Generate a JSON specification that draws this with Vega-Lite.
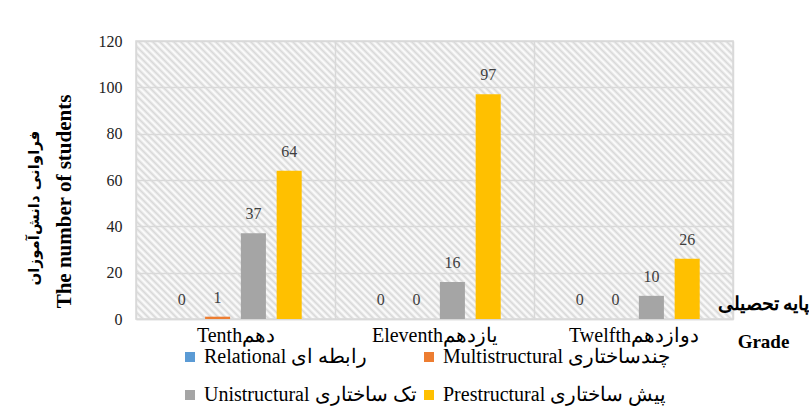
{
  "$schema": "https://vega.github.io/schema/vega-lite/v6.json",
  "width": 597,
  "height": 278,
  "autosize": {"type": "none"},
  "padding": {"left": 136, "top": 41, "right": 76, "bottom": 100},
  "background": "white",
  "title": {
    "text": "فراوانی دانش‌آموزان",
    "orient": "left",
    "anchor": "middle",
    "font": "DejaVu Sans",
    "fontSize": 15,
    "fontWeight": "bold",
    "color": "#000000",
    "offset": 11,
    "dx": -28
  },
  "config": {
    "font": "Liberation Serif",
    "view": {
      "stroke": "#d9d9d9",
      "strokeWidth": 1.5,
      "fill": {
        "gradient": "linear",
        "x1": 0, "y1": 1, "x2": 1.2045, "y2": 0.4391,
        "stops": [
          {"offset":0,"color":"#d9d9d9"},{"offset":0.004,"color":"#fff"},{"offset":0.008,"color":"#d9d9d9"},{"offset":0.012,"color":"#fff"},{"offset":0.016,"color":"#d9d9d9"},{"offset":0.02,"color":"#fff"},{"offset":0.024,"color":"#d9d9d9"},{"offset":0.028,"color":"#fff"},{"offset":0.032,"color":"#d9d9d9"},{"offset":0.036,"color":"#fff"},
          {"offset":0.04,"color":"#d9d9d9"},{"offset":0.044,"color":"#fff"},{"offset":0.048,"color":"#d9d9d9"},{"offset":0.052,"color":"#fff"},{"offset":0.056,"color":"#d9d9d9"},{"offset":0.06,"color":"#fff"},{"offset":0.064,"color":"#d9d9d9"},{"offset":0.068,"color":"#fff"},{"offset":0.072,"color":"#d9d9d9"},{"offset":0.076,"color":"#fff"},
          {"offset":0.08,"color":"#d9d9d9"},{"offset":0.084,"color":"#fff"},{"offset":0.088,"color":"#d9d9d9"},{"offset":0.092,"color":"#fff"},{"offset":0.096,"color":"#d9d9d9"},{"offset":0.1,"color":"#fff"},{"offset":0.104,"color":"#d9d9d9"},{"offset":0.108,"color":"#fff"},{"offset":0.112,"color":"#d9d9d9"},{"offset":0.116,"color":"#fff"},
          {"offset":0.12,"color":"#d9d9d9"},{"offset":0.124,"color":"#fff"},{"offset":0.128,"color":"#d9d9d9"},{"offset":0.132,"color":"#fff"},{"offset":0.136,"color":"#d9d9d9"},{"offset":0.14,"color":"#fff"},{"offset":0.144,"color":"#d9d9d9"},{"offset":0.148,"color":"#fff"},{"offset":0.152,"color":"#d9d9d9"},{"offset":0.156,"color":"#fff"},
          {"offset":0.16,"color":"#d9d9d9"},{"offset":0.164,"color":"#fff"},{"offset":0.168,"color":"#d9d9d9"},{"offset":0.172,"color":"#fff"},{"offset":0.176,"color":"#d9d9d9"},{"offset":0.18,"color":"#fff"},{"offset":0.184,"color":"#d9d9d9"},{"offset":0.188,"color":"#fff"},{"offset":0.192,"color":"#d9d9d9"},{"offset":0.196,"color":"#fff"},
          {"offset":0.2,"color":"#d9d9d9"},{"offset":0.204,"color":"#fff"},{"offset":0.208,"color":"#d9d9d9"},{"offset":0.212,"color":"#fff"},{"offset":0.216,"color":"#d9d9d9"},{"offset":0.22,"color":"#fff"},{"offset":0.224,"color":"#d9d9d9"},{"offset":0.228,"color":"#fff"},{"offset":0.232,"color":"#d9d9d9"},{"offset":0.236,"color":"#fff"},
          {"offset":0.24,"color":"#d9d9d9"},{"offset":0.244,"color":"#fff"},{"offset":0.248,"color":"#d9d9d9"},{"offset":0.252,"color":"#fff"},{"offset":0.256,"color":"#d9d9d9"},{"offset":0.26,"color":"#fff"},{"offset":0.264,"color":"#d9d9d9"},{"offset":0.268,"color":"#fff"},{"offset":0.272,"color":"#d9d9d9"},{"offset":0.276,"color":"#fff"},
          {"offset":0.28,"color":"#d9d9d9"},{"offset":0.284,"color":"#fff"},{"offset":0.288,"color":"#d9d9d9"},{"offset":0.292,"color":"#fff"},{"offset":0.296,"color":"#d9d9d9"},{"offset":0.3,"color":"#fff"},{"offset":0.304,"color":"#d9d9d9"},{"offset":0.308,"color":"#fff"},{"offset":0.312,"color":"#d9d9d9"},{"offset":0.316,"color":"#fff"},
          {"offset":0.32,"color":"#d9d9d9"},{"offset":0.324,"color":"#fff"},{"offset":0.328,"color":"#d9d9d9"},{"offset":0.332,"color":"#fff"},{"offset":0.336,"color":"#d9d9d9"},{"offset":0.34,"color":"#fff"},{"offset":0.344,"color":"#d9d9d9"},{"offset":0.348,"color":"#fff"},{"offset":0.352,"color":"#d9d9d9"},{"offset":0.356,"color":"#fff"},
          {"offset":0.36,"color":"#d9d9d9"},{"offset":0.364,"color":"#fff"},{"offset":0.368,"color":"#d9d9d9"},{"offset":0.372,"color":"#fff"},{"offset":0.376,"color":"#d9d9d9"},{"offset":0.38,"color":"#fff"},{"offset":0.384,"color":"#d9d9d9"},{"offset":0.388,"color":"#fff"},{"offset":0.392,"color":"#d9d9d9"},{"offset":0.396,"color":"#fff"},
          {"offset":0.4,"color":"#d9d9d9"},{"offset":0.404,"color":"#fff"},{"offset":0.408,"color":"#d9d9d9"},{"offset":0.412,"color":"#fff"},{"offset":0.416,"color":"#d9d9d9"},{"offset":0.42,"color":"#fff"},{"offset":0.424,"color":"#d9d9d9"},{"offset":0.428,"color":"#fff"},{"offset":0.432,"color":"#d9d9d9"},{"offset":0.436,"color":"#fff"},
          {"offset":0.44,"color":"#d9d9d9"},{"offset":0.444,"color":"#fff"},{"offset":0.448,"color":"#d9d9d9"},{"offset":0.452,"color":"#fff"},{"offset":0.456,"color":"#d9d9d9"},{"offset":0.46,"color":"#fff"},{"offset":0.464,"color":"#d9d9d9"},{"offset":0.468,"color":"#fff"},{"offset":0.472,"color":"#d9d9d9"},{"offset":0.476,"color":"#fff"},
          {"offset":0.48,"color":"#d9d9d9"},{"offset":0.484,"color":"#fff"},{"offset":0.488,"color":"#d9d9d9"},{"offset":0.492,"color":"#fff"},{"offset":0.496,"color":"#d9d9d9"},{"offset":0.5,"color":"#fff"},{"offset":0.504,"color":"#d9d9d9"},{"offset":0.508,"color":"#fff"},{"offset":0.512,"color":"#d9d9d9"},{"offset":0.516,"color":"#fff"},
          {"offset":0.52,"color":"#d9d9d9"},{"offset":0.524,"color":"#fff"},{"offset":0.528,"color":"#d9d9d9"},{"offset":0.532,"color":"#fff"},{"offset":0.536,"color":"#d9d9d9"},{"offset":0.54,"color":"#fff"},{"offset":0.544,"color":"#d9d9d9"},{"offset":0.548,"color":"#fff"},{"offset":0.552,"color":"#d9d9d9"},{"offset":0.556,"color":"#fff"},
          {"offset":0.56,"color":"#d9d9d9"},{"offset":0.564,"color":"#fff"},{"offset":0.568,"color":"#d9d9d9"},{"offset":0.572,"color":"#fff"},{"offset":0.576,"color":"#d9d9d9"},{"offset":0.58,"color":"#fff"},{"offset":0.584,"color":"#d9d9d9"},{"offset":0.588,"color":"#fff"},{"offset":0.592,"color":"#d9d9d9"},{"offset":0.596,"color":"#fff"},
          {"offset":0.6,"color":"#d9d9d9"},{"offset":0.604,"color":"#fff"},{"offset":0.608,"color":"#d9d9d9"},{"offset":0.612,"color":"#fff"},{"offset":0.616,"color":"#d9d9d9"},{"offset":0.62,"color":"#fff"},{"offset":0.624,"color":"#d9d9d9"},{"offset":0.628,"color":"#fff"},{"offset":0.632,"color":"#d9d9d9"},{"offset":0.636,"color":"#fff"},
          {"offset":0.64,"color":"#d9d9d9"},{"offset":0.644,"color":"#fff"},{"offset":0.648,"color":"#d9d9d9"},{"offset":0.652,"color":"#fff"},{"offset":0.656,"color":"#d9d9d9"},{"offset":0.66,"color":"#fff"},{"offset":0.664,"color":"#d9d9d9"},{"offset":0.668,"color":"#fff"},{"offset":0.672,"color":"#d9d9d9"},{"offset":0.676,"color":"#fff"},
          {"offset":0.68,"color":"#d9d9d9"},{"offset":0.684,"color":"#fff"},{"offset":0.688,"color":"#d9d9d9"},{"offset":0.692,"color":"#fff"},{"offset":0.696,"color":"#d9d9d9"},{"offset":0.7,"color":"#fff"},{"offset":0.704,"color":"#d9d9d9"},{"offset":0.708,"color":"#fff"},{"offset":0.712,"color":"#d9d9d9"},{"offset":0.716,"color":"#fff"},
          {"offset":0.72,"color":"#d9d9d9"},{"offset":0.724,"color":"#fff"},{"offset":0.728,"color":"#d9d9d9"},{"offset":0.732,"color":"#fff"},{"offset":0.736,"color":"#d9d9d9"},{"offset":0.74,"color":"#fff"},{"offset":0.744,"color":"#d9d9d9"},{"offset":0.748,"color":"#fff"},{"offset":0.752,"color":"#d9d9d9"},{"offset":0.756,"color":"#fff"},
          {"offset":0.76,"color":"#d9d9d9"},{"offset":0.764,"color":"#fff"},{"offset":0.768,"color":"#d9d9d9"},{"offset":0.772,"color":"#fff"},{"offset":0.776,"color":"#d9d9d9"},{"offset":0.78,"color":"#fff"},{"offset":0.784,"color":"#d9d9d9"},{"offset":0.788,"color":"#fff"},{"offset":0.792,"color":"#d9d9d9"},{"offset":0.796,"color":"#fff"},
          {"offset":0.8,"color":"#d9d9d9"},{"offset":0.804,"color":"#fff"},{"offset":0.808,"color":"#d9d9d9"},{"offset":0.812,"color":"#fff"},{"offset":0.816,"color":"#d9d9d9"},{"offset":0.82,"color":"#fff"},{"offset":0.824,"color":"#d9d9d9"},{"offset":0.828,"color":"#fff"},{"offset":0.832,"color":"#d9d9d9"},{"offset":0.836,"color":"#fff"},
          {"offset":0.84,"color":"#d9d9d9"},{"offset":0.844,"color":"#fff"},{"offset":0.848,"color":"#d9d9d9"},{"offset":0.852,"color":"#fff"},{"offset":0.856,"color":"#d9d9d9"},{"offset":0.86,"color":"#fff"},{"offset":0.864,"color":"#d9d9d9"},{"offset":0.868,"color":"#fff"},{"offset":0.872,"color":"#d9d9d9"},{"offset":0.876,"color":"#fff"},
          {"offset":0.88,"color":"#d9d9d9"},{"offset":0.884,"color":"#fff"},{"offset":0.888,"color":"#d9d9d9"},{"offset":0.892,"color":"#fff"},{"offset":0.896,"color":"#d9d9d9"},{"offset":0.9,"color":"#fff"},{"offset":0.904,"color":"#d9d9d9"},{"offset":0.908,"color":"#fff"},{"offset":0.912,"color":"#d9d9d9"},{"offset":0.916,"color":"#fff"},
          {"offset":0.92,"color":"#d9d9d9"},{"offset":0.924,"color":"#fff"},{"offset":0.928,"color":"#d9d9d9"},{"offset":0.932,"color":"#fff"},{"offset":0.936,"color":"#d9d9d9"},{"offset":0.94,"color":"#fff"},{"offset":0.944,"color":"#d9d9d9"},{"offset":0.948,"color":"#fff"},{"offset":0.952,"color":"#d9d9d9"},{"offset":0.956,"color":"#fff"},
          {"offset":0.96,"color":"#d9d9d9"},{"offset":0.964,"color":"#fff"},{"offset":0.968,"color":"#d9d9d9"},{"offset":0.972,"color":"#fff"},{"offset":0.976,"color":"#d9d9d9"},{"offset":0.98,"color":"#fff"},{"offset":0.984,"color":"#d9d9d9"},{"offset":0.988,"color":"#fff"},{"offset":0.992,"color":"#d9d9d9"},{"offset":0.996,"color":"#fff"},
          {"offset":1,"color":"#d9d9d9"}
        ]
      }
    }
  },
  "data": {
    "values": [
      {"grade": "Tenth", "level": "Relational رابطه ای", "count": 0},
      {"grade": "Tenth", "level": "Multistructural چندساختاری", "count": 1},
      {"grade": "Tenth", "level": "Unistructural تک ساختاری", "count": 37},
      {"grade": "Tenth", "level": "Prestructural پیش ساختاری", "count": 64},
      {"grade": "Eleventh", "level": "Relational رابطه ای", "count": 0},
      {"grade": "Eleventh", "level": "Multistructural چندساختاری", "count": 0},
      {"grade": "Eleventh", "level": "Unistructural تک ساختاری", "count": 16},
      {"grade": "Eleventh", "level": "Prestructural پیش ساختاری", "count": 97},
      {"grade": "Twelfth", "level": "Relational رابطه ای", "count": 0},
      {"grade": "Twelfth", "level": "Multistructural چندساختاری", "count": 0},
      {"grade": "Twelfth", "level": "Unistructural تک ساختاری", "count": 10},
      {"grade": "Twelfth", "level": "Prestructural پیش ساختاری", "count": 26}
    ]
  },
  "encoding": {
    "x": {
      "field": "grade",
      "type": "nominal",
      "sort": ["Tenth", "Eleventh", "Twelfth"],
      "scale": {"paddingInner": 0, "paddingOuter": 0},
      "axis": {
        "labelExpr": "datum.value === 'Tenth' ? 'Tenthدهم' : datum.value === 'Eleventh' ? 'Eleventhیازدهم' : datum.value === 'Twelfth' ? 'Twelfthدوازدهم' : ''",
        "labelAngle": 0,
        "labelFont": "Liberation Serif",
        "labelFontSize": 20,
        "labelColor": "#000000",
        "labelPadding": 6,
        "labelBaseline": "top",
        "tickBand": "extent",
        "ticks": false,
        "grid": true,
        "gridColor": "#d9d9d9",
        "gridWidth": 1.5,
        "domainColor": "#d9d9d9",
        "domainWidth": 1.5,
        "title": ["پایه تحصیلی", "Grade"],
        "titleFont": "Liberation Serif",
        "titleX": 627,
        "titleY": -10,
        "titleAlign": "center",
        "titleBaseline": "alphabetic",
        "titleLineHeight": 38,
        "titleFontSize": 19,
        "titleFontWeight": "bold",
        "titleColor": "#000000"
      }
    },
    "xOffset": {
      "field": "level",
      "type": "nominal",
      "sort": ["Relational رابطه ای", "Multistructural چندساختاری", "Unistructural تک ساختاری", "Prestructural پیش ساختاری"],
      "scale": {"paddingInner": 0.3, "paddingOuter": 0.93}
    },
    "y": {
      "field": "count",
      "type": "quantitative",
      "scale": {"domain": [0, 120]},
      "axis": {
        "values": [0, 20, 40, 60, 80, 100, 120],
        "labelFont": "Liberation Serif",
        "labelFontSize": 16,
        "labelColor": "#222222",
        "labelPadding": 14,
        "ticks": false,
        "domain": false,
        "gridColor": "#d9d9d9",
        "gridWidth": 1.5,
        "title": "The number of students",
        "titleFont": "Liberation Serif",
        "titleX": -72,
        "titleY": 160,
        "titleAngle": -90,
        "titleAlign": "center",
        "titleBaseline": "middle",
        "titleFontSize": 21,
        "titleFontWeight": "bold",
        "titleColor": "#000000"
      }
    }
  },
  "layer": [
    {
      "mark": {"type": "bar"},
      "encoding": {
        "color": {
          "field": "level",
          "type": "nominal",
          "sort": ["Relational رابطه ای", "Multistructural چندساختاری", "Unistructural تک ساختاری", "Prestructural پیش ساختاری"],
          "scale": {
            "domain": ["Relational رابطه ای", "Multistructural چندساختاری", "Unistructural تک ساختاری", "Prestructural پیش ساختاری"],
            "range": ["#5B9BD5", "#ED7D31", "#A5A5A5", "#FFC000"]
          },
          "legend": {
            "title": null,
            "orient": "none",
            "legendX": 44,
            "legendY": 306,
            "direction": "horizontal",
            "columns": 2,
            "columnPadding": 2,
            "rowPadding": 18,
            "symbolType": "square",
            "symbolSize": 100,
            "symbolStrokeWidth": 0,
            "labelFont": "Liberation Serif",
            "labelFontSize": 20,
            "labelColor": "#000000",
            "labelOffset": 4,
            "labelLimit": 400
          }
        }
      }
    },
    {
      "mark": {"type": "text", "baseline": "alphabetic", "dy": -14, "font": "Liberation Serif", "fontSize": 16, "color": "#404040"},
      "encoding": {
        "text": {"field": "count", "type": "quantitative"}
      }
    }
  ]
}
